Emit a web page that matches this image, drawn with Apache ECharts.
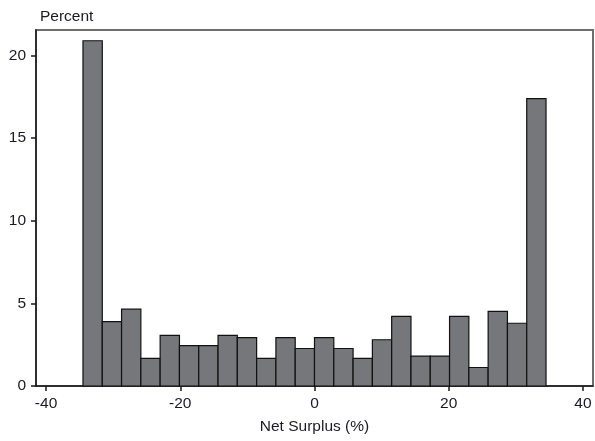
<!DOCTYPE html>
<html>
<head>
<meta charset="utf-8">
<script src="https://cdn.jsdelivr.net/npm/echarts@6/dist/echarts.min.js"></script>
<style>
html,body{margin:0;padding:0;background:#fff;}
#c{width:595px;height:441px;}
</style>
</head>
<body>
<div id="c"></div>
<script>
// Bin edges (Net Surplus %) and bar heights (Percent)
var binEdges = [-34.5, -31.625, -28.75, -25.875, -23, -20.125, -17.25, -14.375, -11.5, -8.625, -5.75, -2.875, 0,
                2.875, 5.75, 8.625, 11.5, 14.375, 17.25, 20.125, 23, 25.875, 28.75, 31.625, 34.5];
var percents = [20.9, 3.9, 4.65, 1.67, 3.07, 2.45, 2.45, 3.07, 2.93, 1.67, 2.93, 2.27,
                2.93, 2.27, 1.67, 2.8, 4.22, 1.81, 1.81, 4.22, 1.12, 4.52, 3.8, 17.4];
var xTicks = [-40, -20, 0, 20, 40];
var yTicks = [0, 5, 10, 15, 20];

var data = percents.map(function (v, i) { return [binEdges[i], binEdges[i + 1], v]; });
var font = 'Liberation Sans, Arial, sans-serif';
var txt = '#1a1a26';

var chart = echarts.init(document.getElementById('c'), null, { renderer: 'canvas' });
chart.setOption({
  animation: false,
  backgroundColor: '#fff',
  title: {
    text: 'Percent', left: 35, top: 4,
    textStyle: { fontFamily: font, fontSize: 15.5, fontWeight: 'normal', color: txt }
  },
  grid: { left: 36, right: 2, top: 30, bottom: 55, show: true, borderColor: '#6e6e6e', borderWidth: 2, backgroundColor: '#fff' },
  xAxis: {
    type: 'value', min: -41.5, max: 41.5,
    name: 'Net Surplus (%)', nameLocation: 'middle', nameGap: 33,
    nameTextStyle: { fontFamily: font, fontSize: 15.5, color: txt },
    axisLine: { show: true, onZero: false, lineStyle: { color: '#1a1a1a', width: 1.5 } },
    axisTick: { show: true, length: 5, customValues: xTicks, lineStyle: { color: '#1a1a1a', width: 1.5 } },
    axisLabel: { customValues: xTicks, margin: 10, fontFamily: font, fontSize: 15.5, color: txt },
    splitLine: { show: false }
  },
  yAxis: {
    type: 'value', min: 0, max: 21.55,
    axisLine: { show: true, onZero: false, lineStyle: { color: '#1a1a1a', width: 1.5 } },
    axisTick: { show: true, length: 5, customValues: yTicks, lineStyle: { color: '#1a1a1a', width: 1.5 } },
    axisLabel: { customValues: yTicks, margin: 10, fontFamily: font, fontSize: 15.5, color: txt },
    splitLine: { show: false }
  },
  series: [{
    type: 'custom',
    data: data,
    encode: { x: [0, 1], y: 2 },
    renderItem: function (params, api) {
      var p0 = api.coord([api.value(0), 0]);
      var p1 = api.coord([api.value(1), api.value(2)]);
      return {
        type: 'rect',
        shape: { x: p0[0], y: p1[1], width: p1[0] - p0[0], height: p0[1] - p1[1] },
        style: { fill: '#76777b', stroke: '#111', lineWidth: 1.2 }
      };
    }
  }]
});
</script>
</body>
</html>
